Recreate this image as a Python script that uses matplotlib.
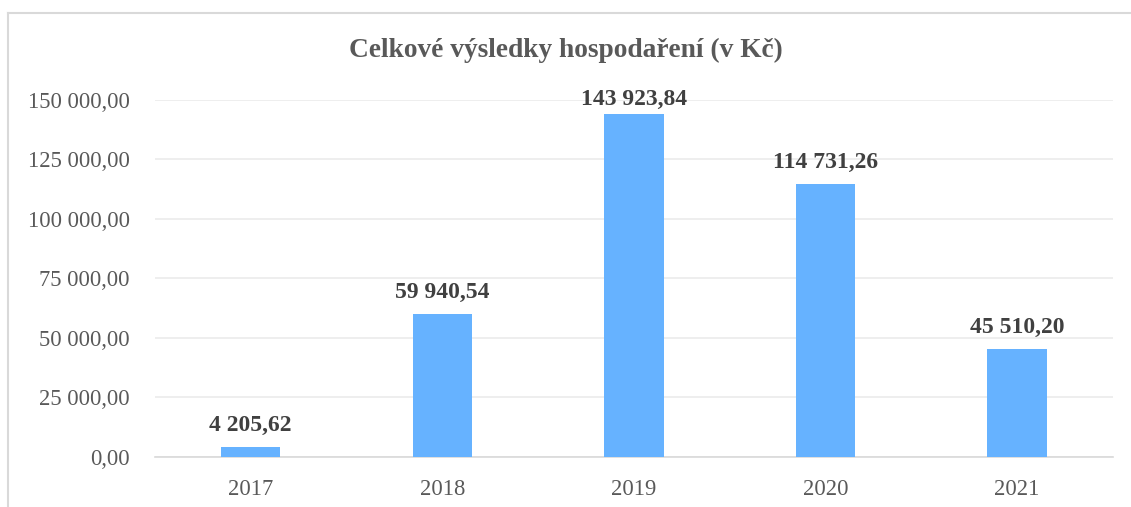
import matplotlib.pyplot as plt
from matplotlib.lines import Line2D
from matplotlib.ticker import FuncFormatter

plt.rcParams['font.family'] = ['Liberation Serif', 'DejaVu Serif']

years = ["2017", "2018", "2019", "2020", "2021"]
values = [4205.62, 59940.54, 143923.84, 114731.26, 45510.20]
y_ticks = [0, 25000, 50000, 75000, 100000, 125000, 150000]


def cz(v, pos=None):
    s = f"{v:,.2f}"
    return s.replace(",", " ").replace(".", ",")


fig = plt.figure(figsize=(11.31, 5.07), dpi=100)
ax = fig.add_axes([0.137, 0.0986, 0.847, 0.7044])

ax.bar(range(len(years)), values, width=0.31, color="#66B2FF", zorder=3)
ax.set_xlim(-0.5, len(years) - 0.5)
ax.set_ylim(0, 150000)
ax.set_yticks(y_ticks)
ax.yaxis.set_major_formatter(FuncFormatter(cz))
ax.set_xticks(range(len(years)))
ax.set_xticklabels(years)
ax.grid(axis="y", color="#EBEBEB", linewidth=1.2, zorder=0)
for s in ["top", "right", "left"]:
    ax.spines[s].set_visible(False)
ax.spines["bottom"].set_color("#D9D9D9")
ax.spines["bottom"].set_linewidth(1.2)
ax.tick_params(axis="both", length=0, labelsize=16.3, colors="#595959")
ax.tick_params(axis="y", pad=18)
ax.tick_params(axis="x", pad=16)

for i, v in enumerate(values):
    # labels near the top are pushed down a bit, like Excel does
    off = 3 if v > 0.9 * 150000 else 8
    ax.annotate(cz(v), (i, v), xytext=(0, off), textcoords="offset points",
                ha="center", va="bottom", fontsize=17, fontweight="bold",
                color="#404040", zorder=4)

fig.text(0.5, 0.9, "Celkové výsledky hospodaření (v Kč)", ha="center",
         va="center", fontsize=19.7, fontweight="bold", color="#595959")

# chart frame: only top and left edges visible in the crop
fig.lines.append(Line2D([8 / 1131, 1.0], [1 - 13 / 507, 1 - 13 / 507],
                        transform=fig.transFigure, color="#D9D9D9", linewidth=1.5))
fig.lines.append(Line2D([8 / 1131, 8 / 1131], [0, 1 - 13 / 507],
                        transform=fig.transFigure, color="#D9D9D9", linewidth=1.5))

fig.savefig("out.png", dpi=100)
